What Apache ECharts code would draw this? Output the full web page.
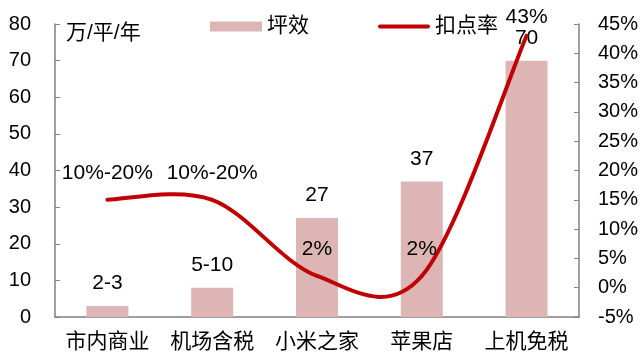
<!DOCTYPE html>
<html>
<head>
<meta charset="utf-8">
<script src="https://cdn.jsdelivr.net/npm/echarts@6/dist/echarts.min.js"></script>
<style>
  html, body { margin: 0; padding: 0; background: #fff; }
  #chart { width: 641px; height: 356px; }
</style>
</head>
<body>
<div id="chart"></div>
<script>
// 数据
const categories = ['市内商业', '机场含税', '小米之家', '苹果店', '上机免税'];
const pingxiao = [3, 8, 27, 37, 70];
const pingxiaoLabels = ['2-3', '5-10', '27', '37', '70'];
const koudian = [15, 15, 2, 2, 43];
const koudianLabels = ['10%-20%', '10%-20%', '2%', '2%', '43%'];

const font = 'Liberation Sans, Arial, Noto Sans CJK SC, sans-serif';
const axisColor = '#808080';
const lineColor = '#C00000';

const chart = echarts.init(document.getElementById('chart'));

// Excel 风格平滑曲线（允许过冲），用 custom 系列画
function renderKoudian(params, api) {
    const i = params.dataIndex;
    const pts = koudian.map((v, k) => api.coord([k, v]));
    const n = pts.length;
    const children = [];
    if (i < n - 1) {
        const p0 = pts[Math.max(i - 1, 0)];
        const p1 = pts[i];
        const p2 = pts[i + 1];
        const p3 = pts[Math.min(i + 2, n - 1)];
        children.push({
            type: 'bezierCurve',
            shape: {
                x1: p1[0], y1: p1[1],
                x2: p2[0], y2: p2[1],
                cpx1: p1[0] + (p2[0] - p0[0]) / 6,
                cpy1: p1[1] + (p2[1] - p0[1]) / 6,
                cpx2: p2[0] - (p3[0] - p1[0]) / 6,
                cpy2: p2[1] - (p3[1] - p1[1]) / 6
            },
            style: { stroke: lineColor, lineWidth: 4, fill: null, lineCap: 'round' }
        });
    }
    const p = pts[i];
    children.push({
        type: 'text',
        x: p[0],
        y: Math.max(p[1] - 27, 17),
        style: {
            text: koudianLabels[i],
            fontSize: 21,
            fontFamily: font,
            fill: '#000',
            align: 'center',
            verticalAlign: 'middle'
        },
        z2: 10
    });
    return { type: 'group', children };
}

const option = {
    animation: false,
    textStyle: { fontFamily: font, color: '#000' },
    grid: { left: 55, right: 61, top: 24, bottom: 39 },
    legend: {
        top: 11,
        left: 205,
        itemGap: 69,
        itemWidth: 52,
        itemHeight: 10,
        textStyle: { fontSize: 21, color: '#000', fontFamily: font },
        data: [
            { name: '坪效', icon: 'rect' },
            { name: '扣点率', icon: 'path://M2,0 L50,0 A2,2 0 0 1 50,4 L2,4 A2,2 0 0 1 2,0 Z' }
        ]
    },
    graphic: [{
        type: 'text',
        left: 66,
        top: 23,
        style: { text: '万/平/年', fontSize: 21, fill: '#000', fontFamily: font }
    }],
    xAxis: {
        type: 'category',
        data: categories,
        axisLine: { lineStyle: { color: axisColor, width: 1.5 } },
        axisTick: { inside: true, length: 6, lineStyle: { color: axisColor } },
        axisLabel: { fontSize: 21, color: '#000', margin: 15, interval: 0 }
    },
    yAxis: [
        {
            type: 'value',
            min: 0, max: 80, interval: 10,
            splitLine: { show: false },
            axisLine: { show: true, lineStyle: { color: axisColor, width: 1.5 } },
            axisTick: { show: true, inside: true, length: 5, lineStyle: { color: axisColor } },
            axisLabel: { fontSize: 20, color: '#000', margin: 24 }
        },
        {
            type: 'value',
            min: -5, max: 45, interval: 5,
            splitLine: { show: false },
            axisLine: { show: true, lineStyle: { color: axisColor, width: 1.5 } },
            axisTick: { show: true, inside: true, length: 5, lineStyle: { color: axisColor } },
            axisLabel: { fontSize: 20, color: '#000', margin: 19, formatter: '{value}%' }
        }
    ],
    series: [
        {
            name: '坪效',
            type: 'bar',
            data: pingxiao,
            barWidth: 42,
            itemStyle: { color: '#DDB5B5' },
            label: {
                show: true,
                position: 'top',
                distance: 12,
                fontSize: 21,
                color: '#000',
                formatter: p => pingxiaoLabels[p.dataIndex]
            }
        },
        {
            name: '扣点率',
            type: 'custom',
            yAxisIndex: 1,
            data: koudian.map((v, i) => [i, v]),
            encode: { x: 0, y: 1 },
            itemStyle: { color: lineColor },
            renderItem: renderKoudian,
            z: 3
        }
    ]
};

chart.setOption(option);
</script>
</body>
</html>
